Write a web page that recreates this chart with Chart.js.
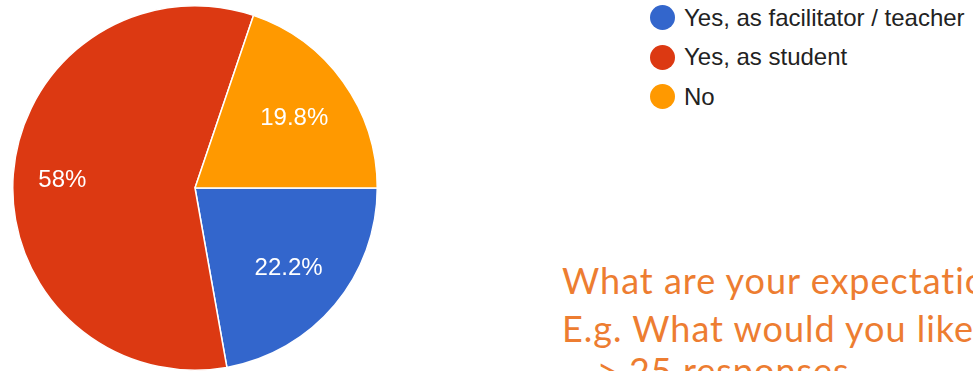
<!DOCTYPE html>
<html>
<head>
<meta charset="utf-8">
<script src="https://cdn.jsdelivr.net/npm/chart.js@4/dist/chart.umd.min.js"></script>
<style>
  html, body { margin: 0; padding: 0; background: #fff; }
  #wrap { position: relative; width: 973px; height: 371px; overflow: hidden; }
  #pieBox { position: absolute; left: 10px; top: 3px; width: 370px; height: 370px; }
  #legend { position: absolute; left: 650px; top: -2px; font-family: "Liberation Sans", Arial, sans-serif; font-size: 24px; color: #222; }
  .item { display: flex; align-items: center; height: 39.5px; white-space: nowrap; }
  .dot { width: 25px; height: 25px; border-radius: 50%; margin-right: 9px; }
  #note { position: absolute; left: 562px; top: 256px; font-family: Lato, "Open Sans", sans-serif; font-size: 36px; letter-spacing: 1px; line-height: 48px; color: #ed7d31; white-space: nowrap; }
  #note .last { position: relative; top: -6px; }
</style>
</head>
<body>
<div id="wrap">
  <div id="pieBox"><canvas id="pie"></canvas></div>
  <div id="legend"></div>
  <div id="note">What are your expectations?<br>E.g. What would you like to learn?<br><span class="last">&nbsp;&nbsp;-&gt; 25 responses</span></div>
</div>
<script>
const labels = ['Yes, as facilitator / teacher', 'Yes, as student', 'No'];
const values = [22.2, 58, 19.8];
const colors = ['#3366cc', '#dc3912', '#ff9900'];

// legend built from the same arrays
const legendBox = document.getElementById('legend');
labels.forEach((name, i) => {
  const row = document.createElement('div');
  row.className = 'item';
  row.innerHTML = '<span class="dot" style="background:' + colors[i] + '"></span>' + name;
  legendBox.appendChild(row);
});

const sliceLabels = {
  id: 'sliceLabels',
  afterDatasetsDraw(chart) {
    const ctx = chart.ctx;
    const meta = chart.getDatasetMeta(0);
    ctx.save();
    ctx.fillStyle = '#fff';
    ctx.font = '24px "Liberation Sans", Arial, sans-serif';
    ctx.textAlign = 'center';
    ctx.textBaseline = 'middle';
    meta.data.forEach((arc, i) => {
      const p = arc.getProps(['x', 'y', 'startAngle', 'endAngle', 'outerRadius'], true);
      const mid = (p.startAngle + p.endAngle) / 2;
      const r = p.outerRadius * (i === 1 ? 0.73 : 0.67);
      ctx.fillText(values[i] + '%', p.x + Math.cos(mid) * r, p.y + Math.sin(mid) * r + 2);
    });
    ctx.restore();
  }
};

new Chart(document.getElementById('pie'), {
  type: 'pie',
  data: {
    labels: labels,
    datasets: [{
      data: values,
      backgroundColor: colors,
      borderColor: '#fff',
      borderWidth: 1.5
    }]
  },
  options: {
    responsive: true,
    maintainAspectRatio: false,
    animation: false,
    rotation: 90,
    layout: { padding: 2 },
    plugins: {
      legend: { display: false },
      tooltip: { enabled: false }
    }
  },
  plugins: [sliceLabels]
});
</script>
</body>
</html>
